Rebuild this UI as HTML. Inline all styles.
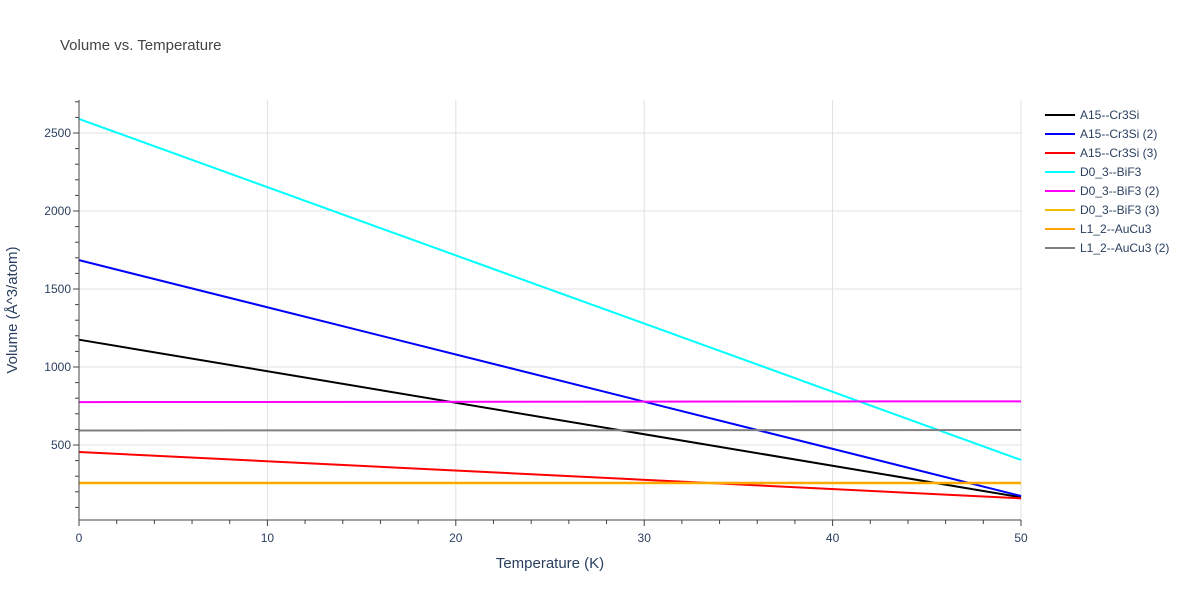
<!DOCTYPE html>
<html><head><meta charset="utf-8"><style>
body{margin:0;background:#fff;font-family:"Liberation Sans",sans-serif}
svg text{font-family:"Liberation Sans",sans-serif}
</style></head><body>
<svg id="chart" width="1200" height="600">
<text x="60" y="50" font-size="15" fill="#444">Volume vs. Temperature</text>
<g id="grid"></g><g id="series"></g><g id="axes"></g><g id="legend"></g>
<text x="550" y="568" font-size="15" fill="#2a3f5f" text-anchor="middle">Temperature (K)</text>
<text transform="translate(17,310) rotate(-90)" font-size="15" fill="#2a3f5f" text-anchor="middle">Volume (Å^3/atom)</text>
</svg>
<script>
const names=["A15--Cr3Si","A15--Cr3Si (2)","A15--Cr3Si (3)","D0_3--BiF3","D0_3--BiF3 (2)","D0_3--BiF3 (3)","L1_2--AuCu3","L1_2--AuCu3 (2)"];
const colors=["#000000","#0000ff","#ff0000","#00ffff","#ff00ff","#f0c000","#ffa500","#808080"];
const temps=[0,50];
const startVals=[1175,1685,455,2590,775,255,258,593];
const endVals=[165,173,158,404,780,255,258,596];
const xTicks=[0,10,20,30,40,50];
const yTicks=[500,1000,1500,2000,2500];
const NS="http://www.w3.org/2000/svg";
const X0=79,X1=1021,YT=100,YB=520;
const sx=v=>X0+(v-0)/50*(X1-X0);
const sy=v=>523-v*0.156;
function mk(t,a,p){const e=document.createElementNS(NS,t);for(const k in a)e.setAttribute(k,a[k]);p.appendChild(e);return e;}
const grid=document.getElementById('grid'),axes=document.getElementById('axes'),ser=document.getElementById('series'),leg=document.getElementById('legend');
xTicks.forEach(t=>{
 if(t>0){const g=mk('line',{x1:sx(t),x2:sx(t),y1:YT,y2:YB,stroke:'#e0e0e0'},grid);
 
 }
 const l=mk('text',{x:sx(t),y:542,'font-size':12,fill:'#2a3f5f','text-anchor':'middle'},axes);l.textContent=t;
 
 
});
for(let t=0;t<=50;t+=2){mk('line',{x1:sx(t),x2:sx(t),y1:YB,y2:YB+(t%10==0?6:4),stroke:'#444'},axes);}
yTicks.forEach(t=>{
 const g=mk('line',{x1:X0,x2:X1,y1:sy(t),y2:sy(t),stroke:'#e0e0e0'},grid);
 
 
 const l=mk('text',{x:71,y:sy(t)+4,'font-size':12,fill:'#2a3f5f','text-anchor':'end'},axes);l.textContent=t;
 
 
});
for(let t=100;t<=2700;t+=100){if(sy(t)>=YT)mk('line',{x1:X0-(t%500==0?6:4),x2:X0,y1:sy(t),y2:sy(t),stroke:'#444'},axes);}
mk('line',{x1:X0,x2:X0,y1:YT,y2:YB,stroke:'#444'},axes);
mk('line',{x1:X0,x2:X1,y1:YB,y2:YB,stroke:'#444'},axes);
names.forEach((n,i)=>{
 const p=mk('line',{x1:sx(temps[0]),y1:sy(startVals[i]),x2:sx(temps[1]),y2:sy(endVals[i]),stroke:colors[i],'stroke-width':2},ser);
 
 
 const y=115+i*19;
 const g=mk('g',{},leg);
 
 
 mk('line',{x1:1045,x2:1075,y1:y,y2:y,stroke:colors[i],'stroke-width':2},g);
 const t=mk('text',{x:1080,y:y+4,'font-size':12,fill:'#2a3f5f'},g);t.textContent=n;
});
</script>
</body></html>
